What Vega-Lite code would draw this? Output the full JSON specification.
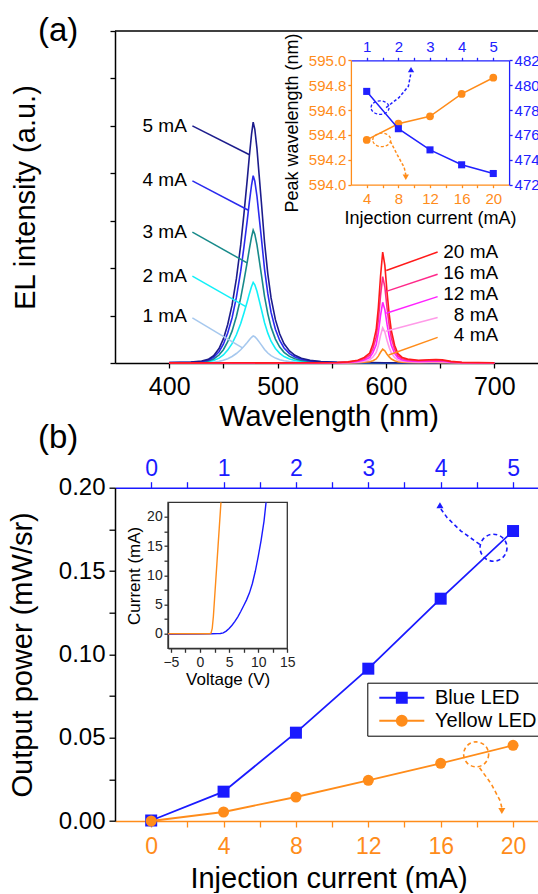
{
"$schema":"https://vega.github.io/schema/vega-lite/v6.json",
"background":"white",
"padding":{"left":8,"top":15,"right":0,"bottom":0},
"bounds":"flush",
"spacing":124.7,
"resolve":{"scale":{"color":"independent","shape":"independent","fill":"independent","stroke":"independent"},"legend":{"color":"independent","shape":"independent","fill":"independent","stroke":"independent"}},
"config":{"font":"Liberation Sans","view":{"stroke":null},
"axis":{"grid":false,"labelFont":"Liberation Sans","titleFont":"Liberation Sans","titleFontWeight":"normal","labelColor":"#000","titleColor":"#000","domainColor":"#000","tickColor":"#000","labelFlush":false,"labelOverlap":false,"tickWidth":1.3,"domainWidth":1.5},
"title":{"font":"Liberation Sans"},"text":{"font":"Liberation Sans"},"legend":{"labelFont":"Liberation Sans"}},
"datasets":{
"blueSpec":[
{"wl":400,"b1":0.001,"b2":0.003,"b3":0.006,"b4":0.008,"b5":0.01},
{"wl":420,"b1":0.002,"b2":0.007,"b3":0.011,"b4":0.016,"b5":0.02},
{"wl":430,"b1":0.005,"b2":0.014,"b3":0.022,"b4":0.032,"b5":0.041},
{"wl":436,"b1":0.009,"b2":0.026,"b3":0.042,"b4":0.059,"b5":0.076},
{"wl":441,"b1":0.017,"b2":0.051,"b3":0.084,"b4":0.119,"b5":0.152},
{"wl":446,"b1":0.034,"b2":0.102,"b3":0.168,"b4":0.237,"b5":0.305},
{"wl":450,"b1":0.057,"b2":0.17,"b3":0.28,"b4":0.395,"b5":0.508},
{"wl":454,"b1":0.091,"b2":0.272,"b3":0.448,"b4":0.632,"b5":0.813},
{"wl":458,"b1":0.137,"b2":0.408,"b3":0.672,"b4":0.948,"b5":1.219},
{"wl":462,"b1":0.2,"b2":0.595,"b3":0.98,"b4":1.383,"b5":1.778},
{"wl":466,"b1":0.279,"b2":0.833,"b3":1.372,"b4":1.936,"b5":2.489},
{"wl":469,"b1":0.353,"b2":1.054,"b3":1.736,"b4":2.449,"b5":3.15},
{"wl":472,"b1":0.433,"b2":1.292,"b3":2.128,"b4":3.002,"b5":3.861},
{"wl":474,"b1":0.49,"b2":1.462,"b3":2.408,"b4":3.397,"b5":4.369},
{"wl":476,"b1":0.542,"b2":1.615,"b3":2.66,"b4":3.753,"b5":4.826},
{"wl":477.5,"b1":0.57,"b2":1.7,"b3":2.8,"b4":3.95,"b5":5.08},
{"wl":479,"b1":0.553,"b2":1.649,"b3":2.716,"b4":3.832,"b5":4.928},
{"wl":481,"b1":0.507,"b2":1.513,"b3":2.492,"b4":3.516,"b5":4.521},
{"wl":483,"b1":0.445,"b2":1.326,"b3":2.184,"b4":3.081,"b5":3.962},
{"wl":485,"b1":0.382,"b2":1.139,"b3":1.876,"b4":2.647,"b5":3.404},
{"wl":488,"b1":0.285,"b2":0.85,"b3":1.4,"b4":1.975,"b5":2.54},
{"wl":491,"b1":0.211,"b2":0.629,"b3":1.036,"b4":1.462,"b5":1.88},
{"wl":494,"b1":0.154,"b2":0.459,"b3":0.756,"b4":1.067,"b5":1.372},
{"wl":498,"b1":0.103,"b2":0.306,"b3":0.504,"b4":0.711,"b5":0.914},
{"wl":502,"b1":0.068,"b2":0.204,"b3":0.336,"b4":0.474,"b5":0.61},
{"wl":506,"b1":0.046,"b2":0.136,"b3":0.224,"b4":0.316,"b5":0.406},
{"wl":511,"b1":0.029,"b2":0.085,"b3":0.14,"b4":0.198,"b5":0.254},
{"wl":516,"b1":0.018,"b2":0.054,"b3":0.09,"b4":0.126,"b5":0.163},
{"wl":522,"b1":0.011,"b2":0.034,"b3":0.056,"b4":0.079,"b5":0.102},
{"wl":530,"b1":0.006,"b2":0.019,"b3":0.031,"b4":0.043,"b5":0.056},
{"wl":540,"b1":0.003,"b2":0.01,"b3":0.017,"b4":0.024,"b5":0.03},
{"wl":555,"b1":0.002,"b2":0.005,"b3":0.008,"b4":0.012,"b5":0.015},
{"wl":600,"b1":0.001,"b2":0.002,"b3":0.003,"b4":0.004,"b5":0.005},
{"wl":700,"b1":0.001,"b2":0.002,"b3":0.003,"b4":0.004,"b5":0.005}
],
"yellowSpec":[
{"wl":400,"y4":0,"y8":0.001,"y12":0.001,"y16":0.002,"y20":0.002},
{"wl":540,"y4":0.001,"y8":0.001,"y12":0.003,"y16":0.004,"y20":0.005},
{"wl":555,"y4":0.001,"y8":0.004,"y12":0.006,"y16":0.009,"y20":0.012},
{"wl":565,"y4":0.003,"y8":0.007,"y12":0.013,"y16":0.018,"y20":0.023},
{"wl":574,"y4":0.007,"y8":0.019,"y12":0.032,"y16":0.046,"y20":0.059},
{"wl":580,"y4":0.015,"y8":0.037,"y12":0.064,"y16":0.091,"y20":0.117},
{"wl":585,"y4":0.026,"y8":0.067,"y12":0.115,"y16":0.164,"y20":0.211},
{"wl":588,"y4":0.049,"y8":0.126,"y12":0.218,"y16":0.309,"y20":0.398},
{"wl":591,"y4":0.087,"y8":0.222,"y12":0.384,"y16":0.546,"y20":0.702},
{"wl":593,"y4":0.145,"y8":0.37,"y12":0.64,"y16":0.91,"y20":1.17},
{"wl":595,"y4":0.226,"y8":0.577,"y12":0.998,"y16":1.42,"y20":1.825},
{"wl":597,"y4":0.29,"y8":0.74,"y12":1.28,"y16":1.82,"y20":2.34},
{"wl":599,"y4":0.255,"y8":0.651,"y12":1.126,"y16":1.602,"y20":2.059},
{"wl":601,"y4":0.186,"y8":0.474,"y12":0.819,"y16":1.165,"y20":1.498},
{"wl":603,"y4":0.128,"y8":0.326,"y12":0.563,"y16":0.801,"y20":1.03},
{"wl":605,"y4":0.084,"y8":0.215,"y12":0.371,"y16":0.528,"y20":0.679},
{"wl":608,"y4":0.046,"y8":0.118,"y12":0.205,"y16":0.291,"y20":0.374},
{"wl":611,"y4":0.025,"y8":0.063,"y12":0.109,"y16":0.155,"y20":0.199},
{"wl":615,"y4":0.015,"y8":0.037,"y12":0.064,"y16":0.091,"y20":0.117},
{"wl":620,"y4":0.01,"y8":0.026,"y12":0.045,"y16":0.064,"y20":0.082},
{"wl":630,"y4":0.007,"y8":0.019,"y12":0.032,"y16":0.046,"y20":0.059},
{"wl":640,"y4":0.009,"y8":0.022,"y12":0.038,"y16":0.055,"y20":0.07},
{"wl":646,"y4":0.009,"y8":0.024,"y12":0.041,"y16":0.058,"y20":0.075},
{"wl":652,"y4":0.008,"y8":0.021,"y12":0.036,"y16":0.051,"y20":0.066},
{"wl":660,"y4":0.004,"y8":0.011,"y12":0.019,"y16":0.027,"y20":0.035},
{"wl":670,"y4":0.002,"y8":0.004,"y12":0.008,"y16":0.011,"y20":0.014},
{"wl":700,"y4":0.001,"y8":0.001,"y12":0.003,"y16":0.004,"y20":0.005}
],
"leaders":[
{"curve":"b5","label":"5 mA","tx":416.3,"ty":5.0,"x1":421.4,"y1":5.0,"x2":474.1,"y2":4.39},
{"curve":"b4","label":"4 mA","tx":416.3,"ty":3.86,"x1":421.4,"y1":3.84,"x2":473.1,"y2":3.22},
{"curve":"b3","label":"3 mA","tx":416.3,"ty":2.77,"x1":421.4,"y1":2.76,"x2":471.9,"y2":2.11},
{"curve":"b2","label":"2 mA","tx":416.3,"ty":1.83,"x1":421.4,"y1":1.83,"x2":470.7,"y2":1.19},
{"curve":"b1","label":"1 mA","tx":416.3,"ty":1.0,"x1":421.4,"y1":0.95,"x2":467.6,"y2":0.32},
{"curve":"y20","label":"20 mA","tx":703.6,"ty":2.34,"x1":647.7,"y1":2.34,"x2":600.3,"y2":1.95},
{"curve":"y16","label":"16 mA","tx":703.6,"ty":1.9,"x1":647.7,"y1":1.87,"x2":600.3,"y2":1.51},
{"curve":"y12","label":"12 mA","tx":703.6,"ty":1.45,"x1":647.7,"y1":1.4,"x2":600.3,"y2":1.05},
{"curve":"y8","label":"8 mA","tx":703.6,"ty":1.02,"x1":647.7,"y1":0.96,"x2":599.8,"y2":0.67},
{"curve":"y4","label":"4 mA","tx":703.6,"ty":0.6,"x1":647.7,"y1":0.54,"x2":602.5,"y2":0.17}
],
"insetA":[
{"I":4,"top":1,"yel":594.36,"blu":479.5},
{"I":8,"top":2,"yel":594.49,"blu":476.5},
{"I":12,"top":3,"yel":594.55,"blu":474.8},
{"I":16,"top":4,"yel":594.73,"blu":473.6},
{"I":20,"top":5,"yel":594.86,"blu":472.9}
],
"powerBlue":[{"top":0,"P":0.0003},{"top":1,"P":0.0176},{"top":2,"P":0.053},{"top":3,"P":0.0914},{"top":4,"P":0.1334},{"top":5,"P":0.174}],
"powerYellow":[{"I":0,"P":0},{"I":4,"P":0.0054},{"I":8,"P":0.0144},{"I":12,"P":0.0244},{"I":16,"P":0.0346},{"I":20,"P":0.0454}],
"ivBlue":[{"V":-5.5,"I":-0.1},{"V":0,"I":-0.05},{"V":2,"I":0},{"V":3,"I":0.01},{"V":3.5,"I":0.04},{"V":4,"I":0.15},{"V":4.5,"I":0.45},{"V":5,"I":0.9},{"V":5.5,"I":1.45},{"V":6,"I":2.1},{"V":6.5,"I":2.9},{"V":7,"I":3.8},{"V":7.5,"I":4.8},{"V":8,"I":5.8},{"V":8.5,"I":7.0},{"V":9,"I":8.6},{"V":9.5,"I":10.7},{"V":10,"I":13.2},{"V":10.5,"I":16.0},{"V":11,"I":19.3},{"V":11.35,"I":22.5}],
"ivYellow":[{"V":-5.5,"I":0},{"V":1.7,"I":0},{"V":1.9,"I":0.1},{"V":2.1,"I":0.9},{"V":2.3,"I":3.0},{"V":2.5,"I":6.0},{"V":2.7,"I":9.0},{"V":2.9,"I":12.0},{"V":3.1,"I":15.0},{"V":3.3,"I":18.0},{"V":3.5,"I":21.0},{"V":3.6,"I":22.5}],
"legendKeys":[{"series":"Blue LED"},{"series":"Yellow LED"}]
},
"vconcat":[
{
"width":427,"height":332,
"title":{"text":"(a)","anchor":"start","frame":"group","fontSize":33,"fontWeight":"normal","baseline":"alphabetic","offset":0,"dx":-77,"dy":44,"color":"#000"},
"layer":[
{"layer":[
{"data":{"name":"blueSpec"},"transform":[{"fold":["b1","b2","b3","b4","b5"],"as":["curve","v"]}],
"mark":{"type":"line","strokeWidth":1.6},
"encoding":{
"x":{"field":"wl","type":"quantitative","scale":{"domain":[350,744],"nice":false,"zero":false},
"axis":{"orient":"bottom","values":[400,450,500,550,600,650,700],"labelExpr":"datum.value % 100 == 0 ? datum.label : ''","title":"Wavelength (nm)","titleFontSize":29,"titlePadding":3,"labelFontSize":25,"labelPadding":6,"tickSize":5}},
"y":{"field":"v","type":"quantitative","scale":{"domain":[0,7],"nice":false,"zero":false},
"axis":{"orient":"left","values":[0,0.5,1,1.5,2,2.5,3,3.5,4,4.5,5,5.5,6,6.5,7],"labels":false,"title":"EL intensity (a.u.)","titleFontSize":29,"titlePadding":68.5,"tickSize":5}},
"color":{"field":"curve","type":"nominal","scale":{"domain":["b1","b2","b3","b4","b5","y4","y8","y12","y16","y20"],"range":["#a6c8ee","#12f0f8","#178a8a","#2a2aee","#1c1c8c","#ff8c1a","#ff9ae8","#ff22ff","#ff2a8a","#ff1a1a"]},"legend":null}}},
{"data":{"name":"yellowSpec"},"transform":[{"fold":["y4","y8","y12","y16","y20"],"as":["curve","v"]}],
"mark":{"type":"line","strokeWidth":1.6},
"encoding":{
"x":{"field":"wl","type":"quantitative"},
"y":{"field":"v","type":"quantitative"},
"color":{"field":"curve","type":"nominal","legend":null}}},
{"data":{"name":"leaders"},"mark":{"type":"rule","strokeWidth":1.5},
"encoding":{"x":{"field":"x1","type":"quantitative"},"x2":{"field":"x2"},"y":{"field":"y1","type":"quantitative"},"y2":{"field":"y2"},"color":{"field":"curve","type":"nominal","legend":null}}},
{"data":{"name":"leaders"},"mark":{"type":"text","align":"right","baseline":"middle","fontSize":19,"color":"#000"},
"encoding":{"x":{"field":"tx","type":"quantitative"},"y":{"field":"ty","type":"quantitative"},"text":{"field":"label"}}},
{"data":{"values":[{}]},"mark":{"type":"rule","color":"#000","strokeWidth":1.5},"encoding":{"y":{"datum":7,"type":"quantitative"}}}
]},
{"layer":[
{"data":{"name":"insetA"},"mark":{"type":"line","color":"#ff8c1a","strokeWidth":1.5},
"encoding":{
"x":{"field":"I","type":"quantitative","scale":{"domain":[2,22],"range":[235.9,394.1],"nice":false,"zero":false},
"axis":{"orient":"bottom","offset":-178.3,"values":[4,6,8,10,12,14,16,18,20],"labelExpr":"datum.value % 4 == 0 ? datum.label : ''","title":"Injection current (mA)","titleFontSize":18,"titlePadding":3,"labelFontSize":15,"labelPadding":4,"tickSize":3,"labelColor":"#ff8c1a","tickColor":"#ff8c1a","domainColor":"#ff8c1a","domainWidth":1.3}},
"y":{"field":"yel","type":"quantitative","scale":{"domain":[594,595],"range":[153.7,29.3],"nice":false,"zero":false},
"axis":{"orient":"left","offset":-235.9,"values":[594,594.1,594.2,594.3,594.4,594.5,594.6,594.7,594.8,594.9,595],"labelExpr":"round(datum.value*10) % 2 == 0 ? format(datum.value,'.1f') : ''","title":"Peak wavelength (nm)","titleFontSize":18,"titlePadding":7,"labelFontSize":15,"labelPadding":2,"tickSize":3,"labelColor":"#ff8c1a","tickColor":"#ff8c1a","domainColor":"#ff8c1a","domainWidth":1.3}}}},
{"data":{"name":"insetA"},"mark":{"type":"point","shape":"circle","filled":true,"color":"#ff8c1a","size":60,"opacity":1},
"encoding":{"x":{"field":"I","type":"quantitative"},"y":{"field":"yel","type":"quantitative"}}},
{"data":{"values":[{"I":6.45,"y":594.62,"o":1},{"I":8.07,"y":594.7,"o":2},{"I":9.26,"y":594.79,"o":3},{"I":9.6,"y":594.9,"o":4}]},
"mark":{"type":"line","color":"#2020ff","strokeWidth":1.5,"strokeDash":[3,2]},
"encoding":{"x":{"field":"I","type":"quantitative"},"y":{"field":"y","type":"quantitative"},"order":{"field":"o"}}},
{"data":{"values":[{"I":9.6,"y":594.925}]},"mark":{"type":"point","shape":"triangle-up","filled":true,"color":"#2020ff","size":40,"opacity":1},
"encoding":{"x":{"field":"I","type":"quantitative"},"y":{"field":"y","type":"quantitative"}}},
{"data":{"values":[{"I":5.69,"y":594.62}]},"mark":{"type":"point","shape":"M-1,0A1,0.75 0 1,1 1,0A1,0.75 0 1,1 -1,0Z","filled":false,"color":"#2020ff","size":324,"strokeWidth":1.3,"strokeDash":[3,2],"opacity":1},
"encoding":{"x":{"field":"I","type":"quantitative"},"y":{"field":"y","type":"quantitative"}}},
{"data":{"values":[{"I":6.98,"y":594.35,"o":1},{"I":7.87,"y":594.24,"o":2},{"I":8.73,"y":594.14,"o":3},{"I":8.94,"y":594.08,"o":4}]},
"mark":{"type":"line","color":"#ff8c1a","strokeWidth":1.5,"strokeDash":[3,2]},
"encoding":{"x":{"field":"I","type":"quantitative"},"y":{"field":"y","type":"quantitative"},"order":{"field":"o"}}},
{"data":{"values":[{"I":8.94,"y":594.06}]},"mark":{"type":"point","shape":"triangle-down","filled":true,"color":"#ff8c1a","size":40,"opacity":1},
"encoding":{"x":{"field":"I","type":"quantitative"},"y":{"field":"y","type":"quantitative"}}},
{"data":{"values":[{"I":5.9,"y":594.36}]},"mark":{"type":"point","shape":"M-1,0A1,0.75 0 1,1 1,0A1,0.75 0 1,1 -1,0Z","filled":false,"color":"#ff8c1a","size":324,"strokeWidth":1.3,"strokeDash":[3,2],"opacity":1},
"encoding":{"x":{"field":"I","type":"quantitative"},"y":{"field":"y","type":"quantitative"}}}
]},
{"layer":[
{"data":{"name":"insetA"},"mark":{"type":"line","color":"#2020ff","strokeWidth":1.5},
"encoding":{
"x":{"field":"top","type":"quantitative","scale":{"domain":[0.5,5.5],"range":[235.9,394.1],"nice":false,"zero":false},
"axis":{"orient":"top","offset":-29.3,"values":[1,1.5,2,2.5,3,3.5,4,4.5,5],"labelExpr":"datum.value % 1 == 0 ? format(datum.value,'.0f') : ''","title":null,"labelFontSize":15,"labelPadding":2.5,"tickSize":3,"labelColor":"#2020ff","tickColor":"#2020ff","domainColor":"#2020ff","domainWidth":1.3}},
"y":{"field":"blu","type":"quantitative","scale":{"domain":[472,482],"range":[153.7,29.3],"nice":false,"zero":false},
"axis":{"orient":"right","offset":-32.9,"values":[472,473,474,475,476,477,478,479,480,481,482],"labelExpr":"datum.value % 2 == 0 ? datum.label : ''","title":null,"labelFontSize":15,"labelPadding":2,"tickSize":3,"labelColor":"#2020ff","tickColor":"#2020ff","domainColor":"#2020ff","domainWidth":1.3}}}},
{"data":{"name":"insetA"},"mark":{"type":"point","shape":"square","filled":true,"color":"#2020ff","size":50,"opacity":1},
"encoding":{"x":{"field":"top","type":"quantitative"},"y":{"field":"blu","type":"quantitative"}}}
]}
],
"resolve":{"scale":{"x":"independent","y":"independent"},"axis":{"x":"independent","y":"independent"}}
},
{
"width":427,"height":333.3,
"title":{"text":"(b)","anchor":"start","frame":"group","fontSize":33,"fontWeight":"normal","baseline":"alphabetic","offset":0,"dx":-77,"dy":23,"color":"#000"},
"layer":[
{"layer":[
{"data":{"name":"powerBlue"},"mark":{"type":"line","color":"#1a1aff","strokeWidth":1.8},
"encoding":{
"x":{"field":"top","type":"quantitative","scale":{"domain":[-0.5,5.4],"nice":false,"zero":false},
"axis":{"orient":"top","values":[0,0.5,1,1.5,2,2.5,3,3.5,4,4.5,5],"labelExpr":"datum.value % 1 == 0 ? format(datum.value,'.0f') : ''","title":null,"labelFontSize":23,"labelPadding":1,"tickSize":6,"labelColor":"#1a1aff","tickColor":"#1a1aff","domainColor":"#1a1aff"}},
"y":{"field":"P","type":"quantitative","scale":{"domain":[0,0.2],"nice":false,"zero":false},
"axis":{"orient":"left","values":[0,0.025,0.05,0.075,0.1,0.125,0.15,0.175,0.2],"labelExpr":"round(datum.value*1000) % 50 == 0 ? format(datum.value,'.2f') : ''","title":"Output power (mW/sr)","titleFontSize":29,"titlePadding":20.7,"labelFontSize":24,"labelPadding":4,"tickSize":6}}}},
{"data":{"name":"powerBlue"},"mark":{"type":"point","shape":"square","filled":true,"color":"#1a1aff","size":144,"opacity":1},
"encoding":{"x":{"field":"top","type":"quantitative"},"y":{"field":"P","type":"quantitative"}}},
{"data":{"values":[{"top":4.54,"P":0.166,"o":1},{"top":4.28,"P":0.174,"o":2},{"top":4.09,"P":0.182,"o":3},{"top":3.99,"P":0.188,"o":4}]},
"mark":{"type":"line","color":"#1a1aff","strokeWidth":1.6,"strokeDash":[4,3]},
"encoding":{"x":{"field":"top","type":"quantitative"},"y":{"field":"P","type":"quantitative"},"order":{"field":"o"}}},
{"data":{"values":[{"top":3.99,"P":0.1895}]},"mark":{"type":"point","shape":"triangle-up","filled":true,"color":"#1a1aff","size":50,"opacity":1},
"encoding":{"x":{"field":"top","type":"quantitative"},"y":{"field":"P","type":"quantitative"}}},
{"data":{"values":[{"top":4.73,"P":0.164}]},"mark":{"type":"point","shape":"circle","filled":false,"color":"#1a1aff","size":729,"strokeWidth":1.6,"strokeDash":[4,3],"opacity":1},
"encoding":{"x":{"field":"top","type":"quantitative"},"y":{"field":"P","type":"quantitative"}}}
]},
{"layer":[
{"data":{"name":"powerYellow"},"mark":{"type":"line","color":"#ff8c1a","strokeWidth":1.8},
"encoding":{
"x":{"field":"I","type":"quantitative","scale":{"domain":[-2,21.6],"nice":false,"zero":false},
"axis":{"orient":"bottom","values":[0,2,4,6,8,10,12,14,16,18,20],"labelExpr":"datum.value % 4 == 0 ? datum.label : ''","title":"Injection current (mA)","titleFontSize":29,"titlePadding":6,"labelFontSize":23,"labelPadding":8,"tickSize":6,"labelColor":"#ff8c1a","tickColor":"#ff8c1a","domainColor":"#ff8c1a"}},
"y":{"field":"P","type":"quantitative","scale":{"domain":[0,0.2],"nice":false,"zero":false},"axis":null}}},
{"data":{"name":"powerYellow"},"mark":{"type":"point","shape":"circle","filled":true,"color":"#ff8c1a","size":121,"opacity":1},
"encoding":{"x":{"field":"I","type":"quantitative"},"y":{"field":"P","type":"quantitative","axis":null}}},
{"data":{"values":[{"I":18.15,"P":0.032,"o":1},{"I":18.81,"P":0.022,"o":2},{"I":19.29,"P":0.012,"o":3},{"I":19.38,"P":0.008,"o":4}]},
"mark":{"type":"line","color":"#ff8c1a","strokeWidth":1.6,"strokeDash":[4,3]},
"encoding":{"x":{"field":"I","type":"quantitative"},"y":{"field":"P","type":"quantitative","axis":null},"order":{"field":"o"}}},
{"data":{"values":[{"I":19.38,"P":0.006}]},"mark":{"type":"point","shape":"triangle-down","filled":true,"color":"#ff8c1a","size":50,"opacity":1},
"encoding":{"x":{"field":"I","type":"quantitative"},"y":{"field":"P","type":"quantitative","axis":null}}},
{"data":{"values":[{"I":17.96,"P":0.04}]},"mark":{"type":"point","shape":"circle","filled":false,"color":"#ff8c1a","size":625,"strokeWidth":1.6,"strokeDash":[4,3],"opacity":1},
"encoding":{"x":{"field":"I","type":"quantitative"},"y":{"field":"P","type":"quantitative","axis":null}}},
{"data":{"name":"legendKeys"},"transform":[{"filter":"false"}],"mark":{"type":"point","filled":true,"opacity":1},
"encoding":{
"shape":{"field":"series","type":"nominal","scale":{"domain":["Blue LED","Yellow LED"],"range":["M-1,0L1,0M-0.22,-0.22L0.22,-0.22L0.22,0.22L-0.22,0.22Z","M-1,0L1,0M0.22,0A0.22,0.22,0,1,1,-0.22,0A0.22,0.22,0,1,1,0.22,0Z"]},
"legend":{"orient":"none","legendX":252.3,"legendY":195,"title":null,"padding":5,"strokeColor":"#000","fillColor":"#fff","labelFontSize":20,"labelColor":"#000","symbolSize":2025,"symbolStrokeWidth":2,"symbolOpacity":1,"clipHeight":20,"rowPadding":3,"labelOffset":9.7,"symbolOffset":6,"labelLimit":300}},
"fill":{"field":"series","type":"nominal","scale":{"domain":["Blue LED","Yellow LED"],"range":["#1a1aff","#ff8c1a"]},
"legend":{"orient":"none","legendX":252.3,"legendY":195,"title":null,"padding":5,"strokeColor":"#000","fillColor":"#fff","labelFontSize":20,"labelColor":"#000","symbolSize":2025,"symbolStrokeWidth":2,"symbolOpacity":1,"clipHeight":20,"rowPadding":3,"labelOffset":9.7,"symbolOffset":6,"labelLimit":300}},
"stroke":{"field":"series","type":"nominal","scale":{"domain":["Blue LED","Yellow LED"],"range":["#1a1aff","#ff8c1a"]},
"legend":{"orient":"none","legendX":252.3,"legendY":195,"title":null,"padding":5,"strokeColor":"#000","fillColor":"#fff","labelFontSize":20,"labelColor":"#000","symbolSize":2025,"symbolStrokeWidth":2,"symbolOpacity":1,"clipHeight":20,"rowPadding":3,"labelOffset":9.7,"symbolOffset":6,"labelLimit":300}}}}
]},
{"layer":[
{"data":{"values":[{}]},"mark":{"type":"rect","fill":"#fff","fillOpacity":0,"stroke":"#333","strokeWidth":1.3},
"encoding":{
"x":{"datum":-5.5,"type":"quantitative","scale":{"domain":[-5.5,15],"range":[53,172.3],"nice":false,"zero":false},
"axis":{"orient":"bottom","offset":-172.7,"values":[-5,-2.5,0,2.5,5,7.5,10,12.5,15],"labelExpr":"datum.value % 5 == 0 ? format(datum.value,'.0f') : ''","title":"Voltage (V)","titleFontSize":17,"titlePadding":2,"labelFontSize":14,"labelPadding":2.7,"tickSize":4,"domainColor":"#333","tickColor":"#333","labelColor":"#222","domainWidth":1.3}},
"x2":{"datum":15},
"y":{"datum":-2.5,"type":"quantitative","scale":{"domain":[-2.5,22.5],"range":[160.6,14.7],"nice":false,"zero":false},
"axis":{"orient":"left","offset":-53,"values":[0,2.5,5,7.5,10,12.5,15,17.5,20],"labelExpr":"datum.value % 5 == 0 ? format(datum.value,'.0f') : ''","title":"Current (mA)","titleFontSize":17,"titlePadding":3,"labelFontSize":14,"labelPadding":1.8,"tickSize":4,"domainColor":"#333","tickColor":"#333","labelColor":"#222","domainWidth":1.3}},
"y2":{"datum":22.5}}},
{"data":{"name":"ivBlue"},"mark":{"type":"line","color":"#1a1aff","strokeWidth":1.4,"clip":true},
"encoding":{"x":{"field":"V","type":"quantitative"},"y":{"field":"I","type":"quantitative"}}},
{"data":{"name":"ivYellow"},"mark":{"type":"line","color":"#ff8c1a","strokeWidth":1.4,"clip":true},
"encoding":{"x":{"field":"V","type":"quantitative"},"y":{"field":"I","type":"quantitative"}}}
]}
],
"resolve":{"scale":{"x":"independent","y":"independent"},"axis":{"x":"independent","y":"independent"}}
}
]
}
